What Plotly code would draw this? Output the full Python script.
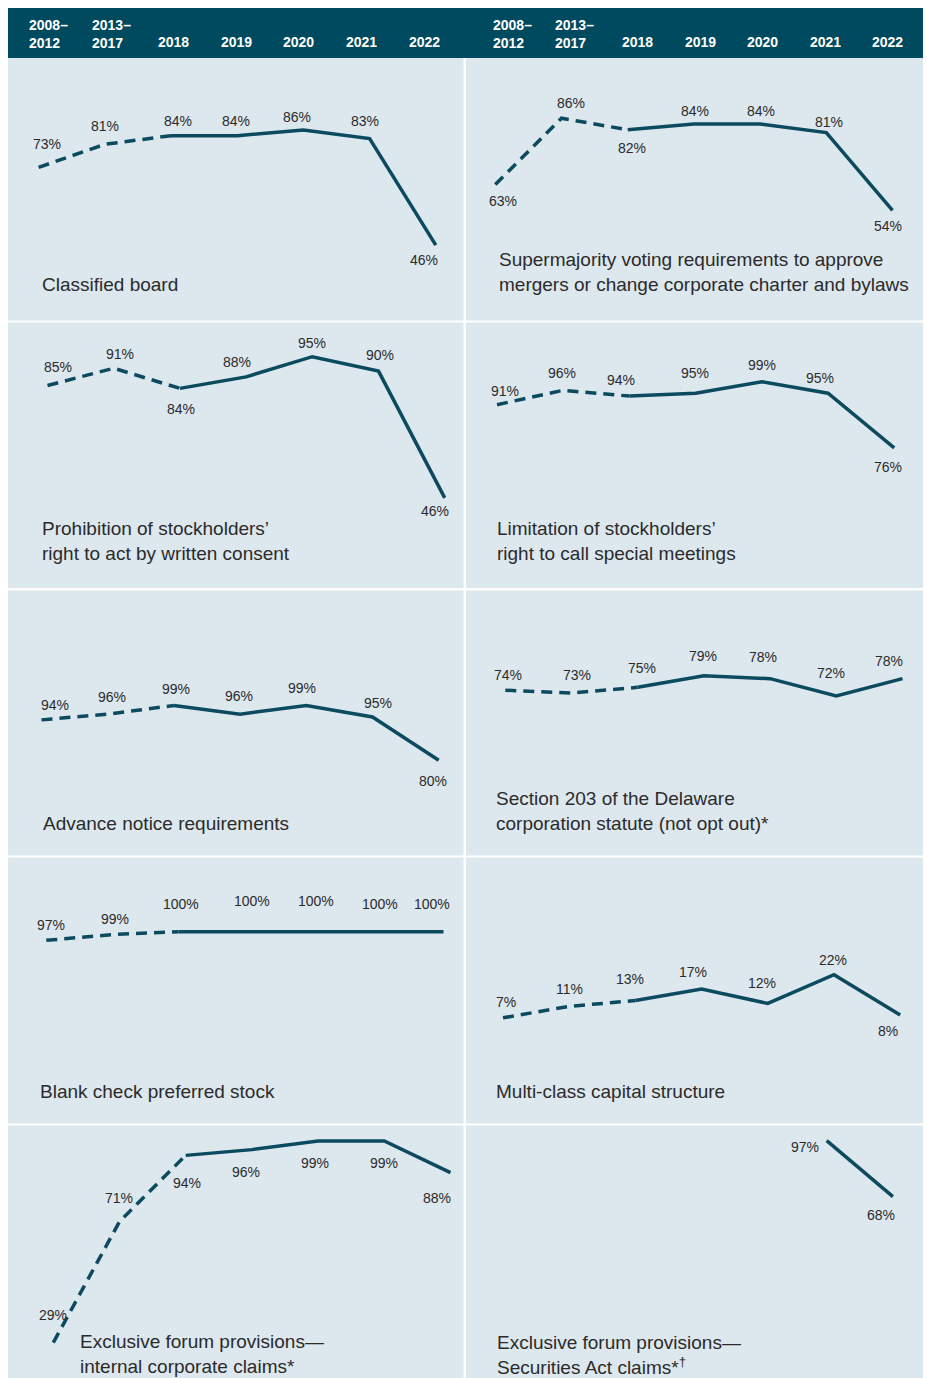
import plotly.graph_objects as go

# ---------------- data ----------------
periods = ["2008–<br>2012", "2013–<br>2017", "2018", "2019", "2020", "2021", "2022"]

classified_board = [73, 81, 84, 84, 86, 83, 46]
supermajority = [63, 86, 82, 84, 84, 81, 54]
written_consent = [85, 91, 84, 88, 95, 90, 46]
special_meetings = [91, 96, 94, 95, 99, 95, 76]
advance_notice = [94, 96, 99, 96, 99, 95, 80]
section_203 = [74, 73, 75, 79, 78, 72, 78]
blank_check = [97, 99, 100, 100, 100, 100, 100]
multi_class = [7, 11, 13, 17, 12, 22, 8]
forum_internal = [29, 71, 94, 96, 99, 99, 88]
forum_securities = [None, None, None, None, None, 97, 68]

titles = [
    "Classified board",
    "Supermajority voting requirements to approve<br>mergers or change corporate charter and bylaws",
    "Prohibition of stockholders’<br>right to act by written consent",
    "Limitation of stockholders’<br>right to call special meetings",
    "Advance notice requirements",
    "Section 203 of the Delaware<br>corporation statute (not opt out)*",
    "Blank check preferred stock",
    "Multi-class capital structure",
    "Exclusive forum provisions—<br>internal corporate claims*",
    "Exclusive forum provisions—<br>Securities Act claims*<sup>†</sup>",
]
series = [classified_board, supermajority, written_consent, special_meetings,
          advance_notice, section_203, blank_check, multi_class,
          forum_internal, forum_securities]

# ---------------- style / layout ----------------
OFF = 0            # page offset of figure in the browser (body margin removed)
FW, FH = 927, 1378
FONT = "Liberation Sans, Arial, Helvetica, sans-serif"
LINE = "#0c4a5f"
HEADER = "#004a60"
PANEL = "#dde7ee"
TEXT = "#2b2b2b"
SP = 66.2          # px between periods in panels

COLS = [(8, 463.5), (466, 923)]
ROWS = [(58, 320.5), (322.5, 588), (590.5, 855.5), (857.5, 1123.5), (1125.5, 1378)]

# per panel: first-point x px, y offset, px per %, title pos, label offsets
P = [
    dict(x0=38.6, c=377.6, s=2.88, tx=40, ty=284,
         offs=[(8, -23), (0, -18), (7, -15), (-1, -15), (-6, -13), (-5, -18), (-12, 15)]),
    dict(x0=495.3, c=365.9, s=2.88, tx=497, ty=272,
         offs=[(8, 17), (9, -15), (4, 18), (1, -13), (1, -13), (3, -11), (-5, 16)]),
    dict(x0=47.5, c=630.3, s=2.88, tx=40, ty=541,
         offs=[(10, -18), (6, -14), (1, 21), (-9, -15), (0, -14), (1, -16), (-10, 13)]),
    dict(x0=497.0, c=666.8, s=2.88, tx=495, ty=541,
         offs=[(8, -14), (-1, -17), (-8, -16), (-1, -20), (0, -17), (-8, -15), (-6, 19)]),
    dict(x0=41.5, c=990.6, s=2.88, tx=41, ty=823,
         offs=[(13, -15), (4, -17), (2, -16), (-1, -18), (-4, -17), (5, -14), (-6, 21)]),
    dict(x0=505.3, c=903.3, s=2.88, tx=494, ty=810.5,
         offs=[(3, -15), (5, -18), (4, -19), (-1, -20), (-7, -22), (-5, -23), (-14, -18)]),
    dict(x0=46.3, c=1219.7, s=2.88, tx=38, ty=1091,
         offs=[(5, -15), (2, -16), (2, -28), (7, -31), (5, -31), (3, -28), (-12, -28)]),
    dict(x0=503.0, c=1038.0, s=2.88, tx=494, ty=1091,
         offs=[(3, -16), (0, -17), (-5, -22), (-9, -17), (-6, -20), (-1, -15), (-12, 16)]),
    dict(x0=53.3, c=1426.1, s=2.88, tx=78, ty=1354,
         offs=[(0, -28), (-1, -24), (1, 28), (-6, 22), (-3, 22), (0, 22), (-14, 25)]),
    dict(x0=495.7, c=1327.9, s=1.93, tx=495, ty=1354.5,
         offs=[(0, 0)] * 5 + [(-22, 6), (-12, 18)]),
]


def px(x):
    return (x - OFF) / FW


def py(y):
    return 1 - (y - OFF) / FH


fig = go.Figure()
layout = dict(
    width=FW, height=FH, autosize=False, margin=dict(l=0, r=0, t=0, b=0, pad=0),
    paper_bgcolor="white", plot_bgcolor=PANEL, showlegend=False,
    font=dict(family=FONT, color=TEXT),
)
annotations = []

for k, (vals, pan, title) in enumerate(zip(series, P, titles), start=1):
    col, row = (k - 1) % 2, (k - 1) // 2
    xl, xr = COLS[col]
    yt, yb = ROWS[row]
    xa, ya = f"xaxis{k}", f"yaxis{k}"
    layout[xa] = dict(domain=[px(xl), px(xr)],
                      range=[(xl - pan["x0"]) / SP, (xr - pan["x0"]) / SP],
                      visible=False, fixedrange=True, anchor=f"y{k}")
    layout[ya] = dict(domain=[py(yb), py(yt)],
                      range=[(pan["c"] - yb) / pan["s"], (pan["c"] - yt) / pan["s"]],
                      visible=False, fixedrange=True, anchor=f"x{k}")
    idx = list(range(len(periods)))
    dash_i = [i for i in idx[:3] if vals[i] is not None]
    solid_i = [i for i in idx[2:] if vals[i] is not None]
    if len(dash_i) > 1:
        fig.add_trace(go.Scatter(x=dash_i, y=[vals[i] for i in dash_i], mode="lines",
                                 line=dict(color=LINE, width=3.5, dash="11px,7px"),
                                 xaxis=f"x{k}", yaxis=f"y{k}", hoverinfo="skip"))
    if len(solid_i) > 1:
        fig.add_trace(go.Scatter(x=solid_i, y=[vals[i] for i in solid_i], mode="lines",
                                 line=dict(color=LINE, width=3.5),
                                 xaxis=f"x{k}", yaxis=f"y{k}", hoverinfo="skip"))
    for i, v in enumerate(vals):
        if v is None:
            continue
        dx, dy = pan["offs"][i]
        annotations.append(dict(x=i, y=v, xref=f"x{k}", yref=f"y{k}", text=f"{v}%",
                                showarrow=False, xshift=dx, yshift=-dy,
                                font=dict(size=14, color=TEXT, family=FONT)))
    annotations.append(dict(x=px(pan["tx"]), y=py(pan["ty"]), xref="paper", yref="paper",
                            text=title, showarrow=False, xanchor="left", yanchor="middle",
                            align="left", font=dict(size=19, color=TEXT, family=FONT)))

# header axes (period labels)
HEAD = [(8, 465, 48.5), (465, 923, 512.2)]
HSP = 62.6
for j, (hl, hr, hc) in enumerate(HEAD, start=11):
    layout[f"xaxis{j}"] = dict(domain=[px(hl), px(hr)],
                               range=[(hl - hc) / HSP, (hr - hc) / HSP],
                               visible=False, fixedrange=True, anchor=f"y{j}")
    layout[f"yaxis{j}"] = dict(domain=[py(58), py(8)], range=[0, 1],
                               visible=False, fixedrange=True, anchor=f"x{j}")
    fig.add_trace(go.Scatter(x=[0], y=[-1], xaxis=f"x{j}", yaxis=f"y{j}",
                             mode="markers", marker=dict(size=1, opacity=0),
                             hoverinfo="skip"))
    for i, lab in enumerate(periods):
        yc = 33.5 if "<br>" in lab else 42.5
        annotations.append(dict(x=i, y=py(yc), xref=f"x{j}", yref="paper", text=lab,
                                showarrow=False, xanchor="center", yanchor="middle",
                                align="left",
                                font=dict(size=14, color="white", family=FONT, weight="bold")))

layout["annotations"] = annotations
layout["shapes"] = [dict(type="rect", xref="paper", yref="paper",
                         x0=px(8), x1=px(923), y0=py(58), y1=py(8),
                         fillcolor=HEADER, line=dict(width=0), layer="above")]
fig.update_layout(**layout)
fig.write_html("out.html",
               config={"displayModeBar": False, "staticPlot": True, "responsive": False},
               post_script="document.body.style.margin='0';document.body.style.overflow='hidden';")
